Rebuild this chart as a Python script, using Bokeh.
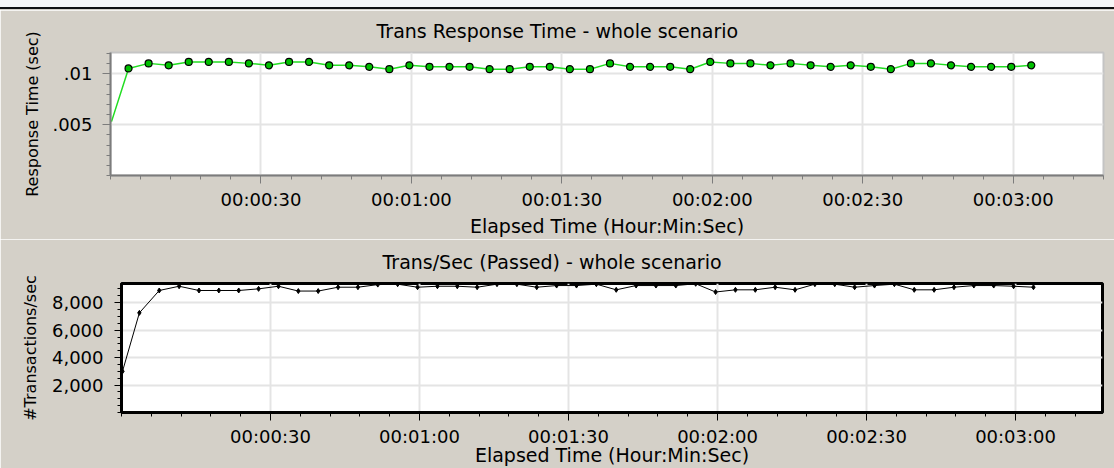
from bokeh.plotting import figure
from bokeh.layouts import column
from bokeh.models import FixedTicker, Range1d, NumeralTickFormatter, Title, Div
from bokeh.embed import file_html
from bokeh.resources import INLINE

# ---- data ----
elapsed_s = [0.2, 3.6, 7.6, 11.6, 15.6, 19.6, 23.6, 27.6, 31.6, 35.6, 39.6, 43.6,
             47.6, 51.6, 55.6, 59.6, 63.6, 67.6, 71.6, 75.6, 79.6, 83.6, 87.6, 91.6,
             95.6, 99.6, 103.6, 107.6, 111.6, 115.6, 119.6, 123.6, 127.6, 131.6,
             135.6, 139.6, 143.6, 147.6, 151.6, 155.6, 159.6, 163.6, 167.6, 171.6,
             175.6, 179.6, 183.6]

response_time = [0.0053,
                 0.01053, 0.01103, 0.01084, 0.01117, 0.01117, 0.01117, 0.01103, 0.01084,
                 0.01117, 0.01117, 0.01084, 0.01084, 0.01069, 0.01046, 0.01084, 0.01069,
                 0.01069, 0.01069, 0.01046, 0.01046, 0.01069, 0.01069, 0.01046, 0.01046,
                 0.01103, 0.01069, 0.01069, 0.01069, 0.01046, 0.01117, 0.01103, 0.01103,
                 0.01084, 0.01103, 0.01084, 0.01069, 0.01084, 0.01069, 0.01046, 0.01103,
                 0.01103, 0.01084, 0.01069, 0.01069, 0.01069, 0.01084]

trans_per_sec = [3000, 7260,
                 8890, 9200, 8890, 8890, 8890, 9010, 9200, 8850, 8850, 9130, 9130, 9320,
                 9350, 9130, 9200,
                 9200, 9130, 9350, 9350, 9130, 9250, 9250, 9350, 8940, 9250, 9250, 9250,
                 9380, 8780, 8940, 8940,
                 9130, 8940, 9350, 9350, 9130, 9250, 9350, 8940, 8940, 9130, 9250, 9250,
                 9200, 9130]

x_ticks = [30, 60, 90, 120, 150, 180]
x_tick_labels = ["00:00:30", "00:01:00", "00:01:30", "00:02:00", "00:02:30", "00:03:00"]
x_minor = list(range(0, 199, 6))

rt_ticks = [0.005, 0.01]
rt_tick_labels = [".005", ".01"]
rt_minor = [0.0, 0.001, 0.002, 0.003, 0.004, 0.005, 0.006, 0.007, 0.008, 0.009, 0.010, 0.011, 0.012]

tps_ticks = [2000, 4000, 6000, 8000]
tps_minor = list(range(0, 9501, 500))

GRAY = "#d4d0c8"
FONT = "DejaVu Sans"


def style_common(p, axis_col, axis_w, tick_col):
    p.background_fill_color = "white"
    p.border_fill_color = GRAY
    p.frame_align = False
    for ax in (p.xaxis[0], p.yaxis[0]):
        ax.axis_line_color = axis_col
        ax.axis_line_width = axis_w
        ax.major_tick_line_color = tick_col
        ax.minor_tick_line_color = tick_col
        ax.major_tick_line_width = 1
        ax.minor_tick_line_width = 1
        ax.major_tick_out = 8
        ax.major_tick_in = 0
        ax.minor_tick_out = 4
        ax.minor_tick_in = 0
        ax.major_label_text_font = FONT
        ax.major_label_text_font_size = "18px"
        ax.major_label_text_color = "black"
        ax.axis_label_text_font = FONT
        ax.axis_label_text_font_style = "normal"
        ax.axis_label_text_color = "black"
    p.xaxis[0].ticker = FixedTicker(ticks=x_ticks, minor_ticks=x_minor)
    p.xaxis[0].major_label_overrides = dict(zip(x_ticks, x_tick_labels))
    p.xaxis[0].major_label_standoff = 5
    p.xaxis[0].axis_label = "Elapsed Time (Hour:Min:Sec)"
    p.xaxis[0].axis_label_text_font_size = "19px"
    p.yaxis[0].axis_label_text_font_size = "16px"
    p.xgrid.grid_line_color = "#e4e4e4"
    p.xgrid.grid_line_width = 2
    p.ygrid.grid_line_color = "#e4e4e4"
    p.ygrid.grid_line_width = 2


top_strip = Div(text="", width=1114, height=10, margin=0,
                styles={"background": "linear-gradient(to bottom, #f6f6f6 0px, #f6f6f6 7px, #111 7px, #111 9px, #d4d0c8 9px)"})

# ---- top panel ----
p1 = figure(width=1114, height=229, output_backend="svg", toolbar_location=None,
            x_range=Range1d(0, 198), y_range=Range1d(0, 0.0121),
            min_border_left=110, min_border_right=11, min_border_top=41, min_border_bottom=61)
style_common(p1, "#7c7c7c", 2, "#7c7c7c")
p1.outline_line_color = "#c4c4c4"
p1.outline_line_width = 2
p1.yaxis[0].ticker = FixedTicker(ticks=rt_ticks, minor_ticks=rt_minor)
p1.yaxis[0].major_label_overrides = dict(zip(rt_ticks, rt_tick_labels))
p1.yaxis[0].major_label_standoff = 10
p1.yaxis[0].axis_label = "Response Time (sec)"
p1.yaxis[0].axis_label_standoff = 7
p1.xaxis[0].axis_label_standoff = 2
p1.add_layout(Title(text="Trans Response Time - whole scenario", align="left", offset=266,
                    vertical_align="top", standoff=18, text_font=FONT, text_font_size="19px",
                    text_font_style="normal", text_color="black"), "above")
p1.line(elapsed_s, response_time, line_color="#22dd22", line_width=1.5)
p1.scatter(elapsed_s[1:], response_time[1:], size=7, fill_color="#00c000", line_color="black", line_width=1.2)

# ---- bottom panel ----
p2 = figure(width=1114, height=229, output_backend="svg", toolbar_location=None,
            x_range=Range1d(0, 197.5), y_range=Range1d(0, 9400),
            min_border_left=121, min_border_right=12, min_border_top=44, min_border_bottom=52)
style_common(p2, "black", 3, "black")
p2.outline_line_color = "black"
p2.outline_line_width = 3
p2.yaxis[0].ticker = FixedTicker(ticks=tps_ticks, minor_ticks=tps_minor)
p2.yaxis[0].formatter = NumeralTickFormatter(format="0,0")
p2.yaxis[0].major_tick_out = 7
p2.yaxis[0].major_label_standoff = 11
p2.yaxis[0].axis_label = "#Transactions/sec"
p2.yaxis[0].axis_label_standoff = 9
p2.xaxis[0].axis_label_standoff = -6
p2.add_layout(Title(text="Trans/Sec (Passed) - whole scenario", align="left", offset=261,
                    vertical_align="top", standoff=18, text_font=FONT, text_font_size="19px",
                    text_font_style="normal", text_color="black"), "above")
p2.line(elapsed_s, trans_per_sec, line_color="black", line_width=1)
p2.scatter(elapsed_s, trans_per_sec, size=5, marker="diamond", fill_color="black", line_color="black")

layout = column(top_strip, p1, p2, spacing=0)
open("out.html", "w").write(file_html(layout, INLINE))
